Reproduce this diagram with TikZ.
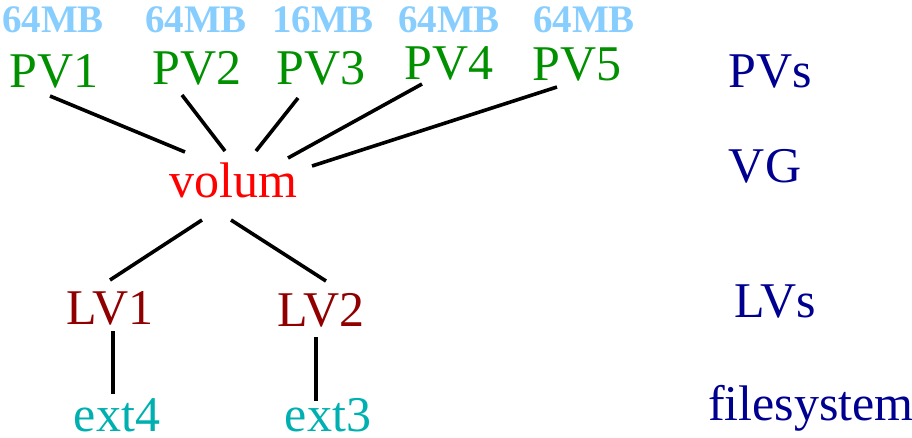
\documentclass[tikz,border=0pt]{standalone}
\usepackage{fontspec}
\setmainfont{Liberation Serif}
\definecolor{pvgreen}{RGB}{0,144,0}
\definecolor{mblue}{RGB}{135,206,255}
\definecolor{lvred}{RGB}{144,0,0}
\definecolor{fscyan}{RGB}{0,176,176}
\definecolor{navy}{RGB}{0,0,144}
\begin{document}
\begin{tikzpicture}[x=1pt,y=-1pt,
  lbl/.style={anchor=base,inner sep=0pt,font=\fontsize{50}{60}\selectfont},
  size/.style={anchor=base,inner sep=0pt,text=mblue,font=\fontsize{39}{46}\selectfont\bfseries},
  pv/.style={lbl,text=pvgreen},
  vg/.style={lbl,text=red},
  lv/.style={lbl,text=lvred},
  fs/.style={lbl,text=fscyan,text depth=0pt},
  cat/.style={lbl,text=navy},
  conn/.style={line width=3.6pt,black}]
\useasboundingbox (0,0) rectangle (912,437);
% sizes
\node[size] (m1) at (53,32) {64MB};
\node[size] (m2) at (196,32) {64MB};
\node[size] (m3) at (323,32) {16MB};
\node[size] (m4) at (449,32) {64MB};
\node[size] (m5) at (584,32) {64MB};
% PVs
\node[pv] (PV1) at (54,87) {PV1};
\node[pv] (PV2) at (197,84) {PV2};
\node[pv] (PV3) at (321,84) {PV3};
\node[pv] (PV4) at (449,79) {PV4};
\node[pv] (PV5) at (577,80) {PV5};
% VG
\node[vg] (volum) at (233,197) {volum};
% LVs
\node[lv] (LV1) at (110,324) {LV1};
\node[lv] (LV2) at (321,326) {LV2};
% filesystems
\node[fs] (ext4) at (117,431) {ext4};
\node[fs] (ext3) at (328,431) {ext3};
% categories
\node[cat] (cPV) at (770,87) {PVs};
\node[cat] (cVG) at (765,182) {VG};
\node[cat] (cLV) at (775,317) {LVs};
\node[cat,text depth=0pt] (cFS) at (811,420) {filesystem};
% connectors
\draw[conn] ([shift={(-4,9)}]PV1.base) -- ([shift={(-48,-45)}]volum.base);
\draw[conn] ([shift={(-15,11)}]PV2.base) -- ([shift={(-8,-46)}]volum.base);
\draw[conn] ([shift={(-23,14)}]PV3.base) -- ([shift={(23,-46)}]volum.base);
\draw[conn] ([shift={(-27,5)}]PV4.base) -- ([shift={(55,-39)}]volum.base);
\draw[conn] ([shift={(-20,7)}]PV5.base) -- ([shift={(79,-31)}]volum.base);
\draw[conn] ([shift={(-31,23)}]volum.base) -- ([shift={(0,-44)}]LV1.base);
\draw[conn] ([shift={(-2,23)}]volum.base) -- ([shift={(5,-45)}]LV2.base);
\draw[conn] ([shift={(3,7)}]LV1.base) -- ([shift={(-4,-37)}]ext4.base);
\draw[conn] ([shift={(-5,11)}]LV2.base) -- ([shift={(-12,-30)}]ext3.base);
\end{tikzpicture}
\end{document}
